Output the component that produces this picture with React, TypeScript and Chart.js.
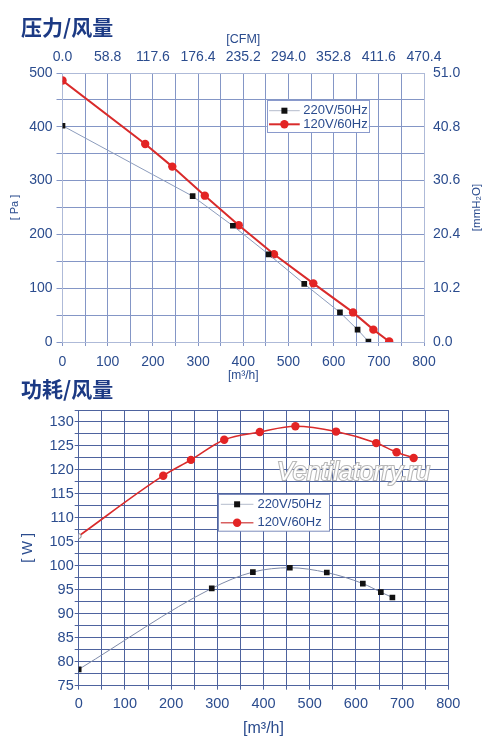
import React, { useEffect, useRef } from "react";
import { Chart, registerables } from "chart.js";
Chart.register(...registerables);

const FONT = "'Liberation Sans', Arial, Helvetica, sans-serif";
const INK = "#2b4c8e";
const TITLE_INK = "#1c3a84";
const RED = "#e32424";
const RED_LINE = "#d92b2b";
const BLACK = "#111111";

const seriesLabels = ["220V/50Hz", "120V/60Hz"];

// Pressure / airflow
const pFlow220 = [0, 288, 377, 456, 535, 614, 653, 677];
const pPa220 = [402, 271, 216, 163, 108, 55, 23, 1];
const pFlow120 = [0, 183, 243, 315, 390, 468, 555, 643, 688, 723];
const pPa120 = [486, 368, 326, 272, 217, 163, 109, 55, 23, 1];
const cfmLabels = ["0.0", "58.8", "117.6", "176.4", "235.2", "294.0", "352.8", "411.6", "470.4"];
const mmLabels = ["0.0", "10.2", "20.4", "30.6", "40.8", "51.0"];

// Power / airflow
const wFlow220 = [0, 288, 377, 457, 537, 615, 654, 679];
const wW220 = [78.4, 95.3, 98.7, 99.6, 98.6, 96.3, 94.5, 93.4];
const wFlow120 = [0, 183, 243, 315, 392, 469, 557, 644, 688, 725];
const wW120 = [106.2, 118.8, 122.1, 126.3, 127.9, 129.1, 128.0, 125.6, 123.7, 122.5];

const pts = (xs: number[], ys: number[]) => xs.map((x, i) => ({ x, y: ys[i] }));
const fix = (w?: number, h?: number) => (scale: any) => {
  if (w !== undefined) scale.width = w;
  if (h !== undefined) scale.height = h;
};

const boxLegend = {
  id: "boxLegend",
  afterDatasetsDraw(chart: any, _a: any, o: any) {
    if (!o || !o.show) return;
    const { ctx, chartArea } = chart;
    const x0 = chartArea.left + o.fx * (chartArea.right - chartArea.left);
    const y0 = chartArea.top + o.oy;
    ctx.save();
    ctx.fillStyle = "#ffffff";
    ctx.fillRect(x0, y0, o.w, o.h);
    ctx.strokeStyle = o.border;
    ctx.lineWidth = 1;
    ctx.strokeRect(Math.round(x0) + 0.5, Math.round(y0) + 0.5, o.w, o.h);
    chart.data.datasets.forEach((ds: any, i: number) => {
      const cy = y0 + o.firstRow + i * o.rowGap;
      ctx.strokeStyle = ds.legendLine || ds.borderColor;
      ctx.lineWidth = ds.borderWidth;
      ctx.beginPath();
      ctx.moveTo(x0 + o.lineX0, cy);
      ctx.lineTo(x0 + o.lineX1, cy);
      ctx.stroke();
      const mx = x0 + (o.lineX0 + o.lineX1) / 2;
      ctx.fillStyle = ds.markerColor;
      if (ds.pointStyle === "rect") {
        ctx.fillRect(mx - 3, cy - 3, 6, 6);
      } else {
        ctx.beginPath();
        ctx.arc(mx, cy, 4.2, 0, Math.PI * 2);
        ctx.fill();
      }
      ctx.fillStyle = INK;
      ctx.font = `${o.fontSize}px ${FONT}`;
      ctx.textBaseline = "middle";
      ctx.textAlign = "left";
      ctx.fillText(ds.label, x0 + o.textX, cy);
    });
    ctx.restore();
  },
};

const extraText = {
  id: "extraText",
  afterDraw(chart: any, _a: any, o: any) {
    if (!o || !o.items) return;
    const { ctx, chartArea } = chart;
    ctx.save();
    o.items.forEach((it: any) => {
      ctx.save();
      const x = it.rightAxis ? chartArea.right + it.dx : it.x;
      const y = it.rightAxis ? (chartArea.top + chartArea.bottom) / 2 : it.y;
      ctx.translate(x, y);
      if (it.rot) ctx.rotate(it.rot);
      ctx.font = it.font;
      ctx.textAlign = "center";
      ctx.textBaseline = "middle";
      if (it.stroke) {
        ctx.lineWidth = 2.2;
        ctx.strokeStyle = it.stroke;
        ctx.strokeText(it.text, 0, 0);
      }
      ctx.fillStyle = it.color;
      ctx.fillText(it.text, 0, 0);
      ctx.restore();
    });
    ctx.restore();
  },
};

Chart.register(boxLegend, extraText);

const tickFont = (size: number) => ({ family: FONT, size });

function PressureChart() {
  const ref = useRef<HTMLCanvasElement | null>(null);
  useEffect(() => {
    if (!ref.current) return;
    const GRID = "#8496c6";
    const BORDER = "#aebad8";
    const chart = new Chart(ref.current, {
      type: "line",
      data: {
        datasets: [
          {
            label: seriesLabels[0],
            data: pts(pFlow220, pPa220),
            borderColor: "#8c9cbc",
            borderWidth: 1,
            pointStyle: "rect",
            pointRadius: 4,
            pointBackgroundColor: BLACK,
            pointBorderColor: BLACK,
            pointBorderWidth: 0,
            tension: 0,
            markerColor: BLACK,
            legendLine: "#b4bccc",
          } as any,
          {
            label: seriesLabels[1],
            data: pts(pFlow120, pPa120),
            borderColor: RED_LINE,
            borderWidth: 2,
            pointStyle: "circle",
            pointRadius: 4.2,
            pointBackgroundColor: RED,
            pointBorderColor: RED,
            pointBorderWidth: 0,
            tension: 0,
            markerColor: RED,
          } as any,
        ],
      },
      options: {
        animation: false,
        responsive: false,
        layout: { padding: 0 },
        scales: {
          x: {
            type: "linear",
            position: "bottom",
            min: 0,
            max: 800,
            afterFit: fix(undefined, 43),
            ticks: {
              stepSize: 50,
              autoSkip: false,
              maxRotation: 0,
              padding: 8,
              color: INK,
              font: tickFont(14),
              callback: (v: any) => (v % 100 === 0 ? String(v) : ""),
            },
            grid: { color: GRID, tickLength: 4, lineWidth: 1 },
            border: { color: BORDER },
            title: { display: true, text: "[m³/h]", color: INK, font: { family: FONT, size: 12 }, padding: { top: 0, bottom: 2 } },
          },
          x2: {
            type: "linear",
            position: "top",
            min: 0,
            max: 800,
            afterFit: fix(undefined, 73),
            ticks: {
              stepSize: 100,
              autoSkip: false,
              maxRotation: 0,
              padding: 7,
              color: INK,
              font: tickFont(14),
              callback: (_v: any, i: number) => cfmLabels[i] ?? "",
            },
            grid: { drawOnChartArea: false, drawTicks: false },
            border: { color: BORDER },
            title: { display: true, text: "[CFM]", color: INK, font: { family: FONT, size: 12.5 }, padding: { top: 32.5, bottom: 0 } },
          },
          y: {
            type: "linear",
            position: "left",
            min: 0,
            max: 500,
            afterFit: fix(62.5),
            ticks: {
              stepSize: 50,
              autoSkip: false,
              padding: 4,
              color: INK,
              font: tickFont(14),
              callback: (v: any) => (v % 100 === 0 ? String(v) : ""),
            },
            grid: { color: GRID, tickLength: 6 },
            border: { color: BORDER },
            title: { display: true, text: "[ Pa ]", color: INK, font: { family: FONT, size: 11 }, padding: { top: 8.5, bottom: 0 } },
          },
          y2: {
            type: "linear",
            position: "right",
            min: 0,
            max: 500,
            afterFit: fix(76),
            ticks: {
              stepSize: 100,
              autoSkip: false,
              padding: 9,
              color: INK,
              font: tickFont(14),
              callback: (_v: any, i: number) => mmLabels[i] ?? "",
            },
            grid: { drawOnChartArea: false, drawTicks: false },
            border: { color: BORDER },
          },
        },
        plugins: {
          legend: { display: false },
          tooltip: { enabled: false },
          boxLegend: {
            show: true,
            fx: 0.565,
            oy: 27,
            w: 102,
            h: 32,
            firstRow: 10.7,
            rowGap: 13.6,
            lineX0: 2.3,
            lineX1: 33,
            textX: 36.6,
            fontSize: 13,
            border: "#8a9acc",
          },
          extraText: {
            items: [
              { text: "[mmH₂O]", rightAxis: true, dx: 52.7, rot: -Math.PI / 2, font: `11.5px ${FONT}`, color: INK },
            ],
          },
        } as any,
      },
    } as any);
    return () => chart.destroy();
  }, []);
  return <canvas ref={ref} width={500} height={385} style={{ position: "absolute", left: 0, top: 0, width: 500, height: 385 }} />;
}

function PowerChart() {
  const ref = useRef<HTMLCanvasElement | null>(null);
  useEffect(() => {
    if (!ref.current) return;
    const GRID = "#4e639e";
    const BORDER = "#4e639e";
    const n120 = wW120.length;
    const chart = new Chart(ref.current, {
      type: "line",
      data: {
        datasets: [
          {
            label: seriesLabels[0],
            data: pts(wFlow220, wW220),
            borderColor: "#7e8aa8",
            borderWidth: 1,
            pointStyle: "rect",
            pointRadius: 4,
            pointBackgroundColor: BLACK,
            pointBorderColor: BLACK,
            pointBorderWidth: 0,
            cubicInterpolationMode: "monotone",
            markerColor: BLACK,
            legendLine: "#b4bccc",
          } as any,
          {
            label: seriesLabels[1],
            data: pts(wFlow120, wW120),
            borderColor: RED_LINE,
            borderWidth: 1.6,
            pointStyle: "circle",
            pointRadius: wW120.map((_, i) => (i === 0 ? 2.5 : 4.2)),
            pointBackgroundColor: wW120.map((_, i) => (i === 0 ? "#ffffff" : RED)),
            pointBorderColor: wW120.map((_, i) => (i === 0 ? "#8a8a8a" : RED)),
            pointBorderWidth: wW120.map((_, i) => (i === 0 ? 1 : 0)),
            cubicInterpolationMode: "monotone",
            markerColor: RED,
            legendLine: "#d86060",
          } as any,
        ],
      },
      options: {
        animation: false,
        responsive: false,
        layout: { padding: { top: 30, right: 51.7, left: 0, bottom: 0 } },
        scales: {
          x: {
            type: "linear",
            position: "bottom",
            min: 0,
            max: 800,
            afterFit: fix(undefined, 62.3),
            ticks: {
              stepSize: 50,
              autoSkip: false,
              maxRotation: 0,
              padding: 5.6,
              color: INK,
              font: tickFont(14.5),
              callback: (v: any) => (v % 100 === 0 ? String(v) : ""),
            },
            grid: { color: GRID, tickLength: 4 },
            border: { color: BORDER },
            title: { display: true, text: "[m³/h]", color: INK, font: { family: FONT, size: 16 }, padding: { top: 0, bottom: 9.4 } },
          },
          y: {
            type: "linear",
            position: "left",
            min: 75,
            max: 132.5,
            afterFit: fix(78.7),
            ticks: {
              stepSize: 2.5,
              autoSkip: false,
              padding: 1,
              color: INK,
              font: tickFont(14.5),
              callback: (v: any) => (v % 5 === 0 && v <= 130 ? String(v) : ""),
            },
            grid: { color: GRID, tickLength: 4 },
            border: { color: BORDER },
            title: { display: true, text: "[ W ]", color: INK, font: { family: FONT, size: 14.5 }, padding: { top: 18.8, bottom: 0 } },
          },
        },
        plugins: {
          legend: { display: false },
          tooltip: { enabled: false },
          boxLegend: {
            show: true,
            fx: 0.378,
            oy: 84.3,
            w: 111,
            h: 36.7,
            firstRow: 10,
            rowGap: 18.4,
            lineX0: 2.4,
            lineX1: 35,
            textX: 39,
            fontSize: 13,
            border: "#7c8cbc",
          },
          extraText: {
            items: [
              { text: "Ventilatorry.ru", x: 353.5, y: 93, font: `italic 25px ${FONT}`, color: "#ffffff", stroke: "#b8b8b8" },
            ],
          },
        } as any,
      },
    } as any);
    return () => chart.destroy();
  }, []);
  return <canvas ref={ref} width={500} height={368} style={{ position: "absolute", left: 0, top: 380, width: 500, height: 368 }} />;
}

const headStyle: React.CSSProperties = {
  position: "absolute",
  left: 21,
  fontFamily: "'Noto Sans CJK SC', sans-serif",
  fontWeight: 700,
  fontSize: 21,
  lineHeight: "21px",
  color: TITLE_INK,
  whiteSpace: "nowrap",
  zIndex: 2,
};

export default function App() {
  return (
    <div style={{ position: "absolute", left: 0, top: 0, width: 500, height: 748, background: "#ffffff", overflow: "hidden" }}>
      <PressureChart />
      <PowerChart />
      <div style={{ ...headStyle, top: 16 }}>压力/风量</div>
      <div style={{ ...headStyle, top: 378 }}>功耗/风量</div>
    </div>
  );
}
